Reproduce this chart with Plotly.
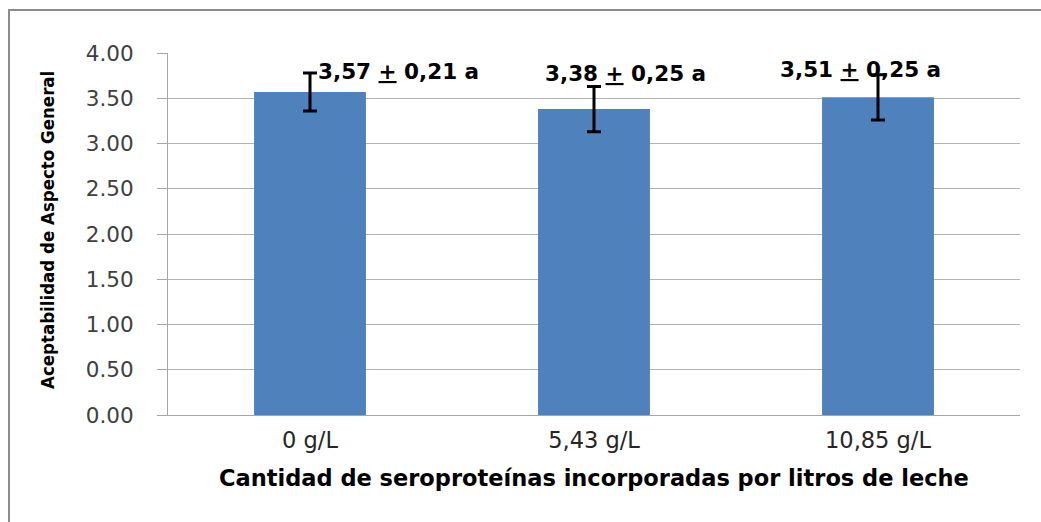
import plotly.graph_objects as go

# Treatment levels and measured acceptability
categories = ["0 g/L", "5,43 g/L", "10,85 g/L"]
means = [3.57, 3.38, 3.51]
errors = [0.21, 0.25, 0.25]
groups = ["a", "a", "a"]
y_ticks = [0, 0.5, 1.0, 1.5, 2.0, 2.5, 3.0, 3.5, 4.0]

W, H = 1041, 522
L, R, T, B = 168, 21, 53, 107
pw, ph = W - L - R, H - T - B


def px_x(p):
    return (p - L) / pw


def px_y(p):
    return (H - B - p) / ph


fig = go.Figure()
fig.add_trace(go.Bar(
    x=categories,
    y=means,
    marker=dict(color="#4F81BD", line=dict(width=0)),
    error_y=dict(type="data", array=errors, visible=True,
                 color="black", thickness=3, width=7),
    showlegend=False,
))

# Mean ± SD labels, nudged sideways like the original layout
label_shift = [88, 31, -18]
label_yshift = [0, -2, 2]
for i, (c, m, e, g) in enumerate(zip(categories, means, errors, groups)):
    txt = f"<b>{m:.2f}".replace(".", ",") + " <u>+</u> " + f"{e:.2f}".replace(".", ",") + f" {g}</b>"
    fig.add_annotation(x=c, y=3.8, xref="x", yref="y", text=txt, showarrow=False,
                       xshift=label_shift[i], yshift=label_yshift[i],
                       font=dict(family="DejaVu Sans", size=21.5, color="black"),
                       xanchor="center", yanchor="middle")

# Axis titles
fig.add_annotation(x=px_x(47), y=px_y(230), xref="paper", yref="paper",
                   text="<b>Aceptabilidad de Aspecto General</b>", textangle=-90,
                   showarrow=False, xanchor="center", yanchor="middle",
                   font=dict(family="DejaVu Sans Condensed, Liberation Sans", size=18.5, color="black"))
fig.add_annotation(x=px_x(594), y=px_y(478), xref="paper", yref="paper",
                   text="<b>Cantidad de seroproteínas incorporadas por litros de leche</b>",
                   showarrow=False, xanchor="center", yanchor="middle",
                   font=dict(family="DejaVu Sans", size=22.5, color="black"))

# Outer chart frame
fig.add_shape(type="rect", xref="paper", yref="paper",
              x0=px_x(9), y0=px_y(560), x1=px_x(1100), y1=px_y(10),
              line=dict(color="#8c8c8c", width=2), fillcolor="rgba(0,0,0,0)", layer="below")

fig.update_layout(
    width=W, height=H,
    margin=dict(l=L, r=R, t=T, b=B),
    paper_bgcolor="white", plot_bgcolor="white",
    bargap=0.606,
    xaxis=dict(showline=True, linecolor="#a6a6a6", linewidth=1, ticks="",
               tickfont=dict(family="DejaVu Sans", size=22.5, color="#262626"),
               ticklabelstandoff=5),
    yaxis=dict(range=[0, 4], tickvals=y_ticks, tickformat=".2f",
               showgrid=True, gridcolor="#b5b5b5", gridwidth=1,
               showline=True, linecolor="#a6a6a6", linewidth=1,
               ticks="outside", ticklen=10, tickcolor="#a6a6a6",
               tickfont=dict(family="DejaVu Sans", size=21.5, color="#404040"),
               ticklabelstandoff=19, zeroline=False),
)

fig.write_html("out.html")
